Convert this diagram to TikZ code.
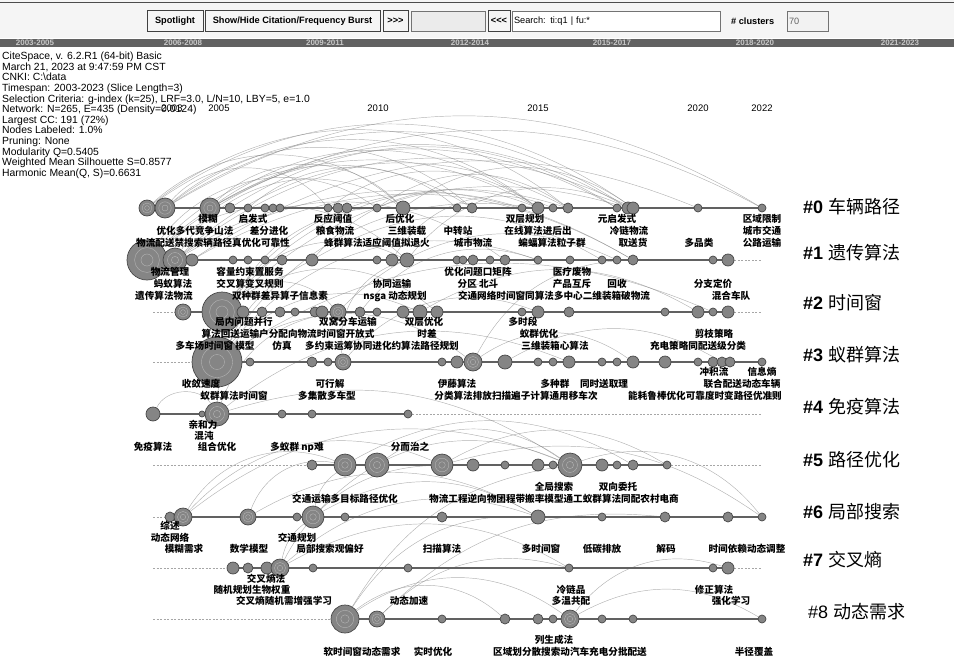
\documentclass[tikz,border=0pt]{standalone}
\usepackage{fontspec}
\setmainfont{Liberation Sans}
\newfontfamily\cjk{Noto Sans CJK SC}
\usetikzlibrary{backgrounds}

% one cluster row of keyword nodes: row, y, list of x/radius
\newcommand{\keyrow}[3]{%
  \foreach \x/\r [count=\i] in {#3} {%
    \node[kwnode, minimum size=2*\r pt] (a#1-\i) at (\x,#2) {};
    \ifnum\r>7 \draw[ringline] (a#1-\i.center) circle[radius=0.62*\r pt] circle[radius=0.3*\r pt];\fi
  }}
% one line of keyword labels: tag, y, list of x/text
\newcommand{\kwline}[3]{%
  \foreach \x/\t [count=\i] in {#3} \node[kwlabel] (l#1-\i) at (\x,#2) {\t};}

\begin{document}
\begin{tikzpicture}[x=1pt, y=-1pt]
    % Styles
    \tikzstyle{kwnode} = [circle, draw=black!72, fill=black!48, line width=0.7pt, inner sep=0pt]
    \tikzstyle{ringline} = [white!72!black, line width=0.35pt]
    \tikzstyle{rowline} = [black!62, line width=1.8pt]
    \tikzstyle{tailline} = [black!35, dash pattern=on 2pt off 1.5pt, line width=0.4pt]
    \tikzstyle{citelink} = [black!50, line width=0.45pt, opacity=0.6]
    \tikzstyle{kwlabel} = [inner sep=0pt, font=\cjk\bfseries\fontsize{9.6}{10}\selectfont]
    \tikzstyle{clusterlabel} = [anchor=west, inner sep=0pt, font=\fontsize{18}{20}\selectfont]
    \tikzstyle{yearlabel} = [inner sep=0pt, font=\fontsize{9.5}{10}\selectfont]
    \tikzstyle{rangelabel} = [inner sep=0pt, text=black!22, font=\bfseries\fontsize{8}{8}\selectfont]
    \tikzstyle{btn} = [draw=black!75, fill=black!4, minimum height=21pt, inner sep=2pt, font=\bfseries\fontsize{9.2}{10}\selectfont]
    \tikzstyle{field} = [draw=black!55, fill=white, minimum height=20pt, inner sep=2pt, align=left, font=\fontsize{9.2}{10}\selectfont]

    \useasboundingbox (0,0) rectangle (954,667);

    % Toolbar
    \fill[black!4] (0,0) rectangle (954,38);
    \draw[black!70, line width=1pt] (0,2) -- (954,2);
    \node[btn, minimum width=56pt] (spot) at (175,21) {Spotlight};
    \node[btn, minimum width=175pt] (burst) at (292.5,21) {Show/Hide Citation/Frequency Burst};
    \node[btn, minimum width=25pt] (fwd) at (395.5,21) {>\kern0pt>\kern0pt>};
    \node[field, minimum width=74pt, fill=black!8] (blank) at (448,21) {};
    \node[btn, minimum width=22pt] (back) at (499,21) {<\kern0pt<\kern0pt<};
    \node[field, text width=204pt] (search) at (616,21) {Search: ti:q1 | fu:*};
    \node[anchor=west, inner sep=0pt, font=\bfseries\fontsize{9.2}{10}\selectfont] (ncl) at (731,21) {\# clusters};
    \node[field, text width=37pt, fill=black!5, text=black!60] (nclv) at (807.5,21) {70};

    % Time slices
    \fill[black!62] (0,39) rectangle (954,47);
    \foreach \x/\t [count=\i] in {35/2003-2005, 183/2006-2008, 325/2009-2011, 470/2012-2014, 612/2015-2017, 755/2018-2020, 900/2021-2023}
        \node[rangelabel] (rg\i) at (\x,43) {\t};

    % Summary
    \node[anchor=north west, inner sep=0pt, align=left, font=\fontsize{10.4}{10.6}\selectfont] (info) at (2,52) {CiteSpace, v. 6.2.R1 (64-bit) Basic\\March 21, 2023 at 9:47:59 PM CST\\CNKI: C:\textbackslash data\\Timespan: 2003-2023 (Slice Length=3)\\Selection Criteria: g-index (k=25), LRF=3.0, L/N=10, LBY=5, e=1.0\\Network: N=265, E=435 (Density=0.0124)\\Largest CC: 191 (72\%)\\Nodes Labeled: 1.0\%\\Pruning: None\\Modularity Q=0.5405\\Weighted Mean Silhouette S=0.8577\\Harmonic Mean(Q, S)=0.6631};

    % Years
    \foreach \x/\t [count=\i] in {172/2003, 219/2005, 378/2010, 538/2015, 698/2020, 762/2022}
        \node[yearlabel] (yr\i) at (\x,108) {\t};

    % Keyword nodes
    \keyrow{0}{208}{147/8, 165/10, 210/10, 230/5, 248/4, 265/4, 273/4, 280/4, 328/4, 338/5, 347/5, 377/4, 403/7, 457/4, 472/5, 522/4, 538/6, 553/4, 568/5, 617/4, 628/6, 633/6, 698/4, 762/4}
    \keyrow{1}{260}{147/20, 175/12, 192/6, 233/4, 248/4, 265/4, 282/5, 312/6, 377/4, 392/6, 407/7, 457/4, 463/4, 473/5, 490/4, 505/5, 538/4, 570/4, 602/4, 617/4, 633/5, 713/4, 728/6}
    \keyrow{2}{312}{183/8, 222/20, 243/6, 262/5, 280/5, 295/4, 315/5, 322/6, 338/8, 360/5, 377/4, 403/6, 420/7, 437/6, 522/4, 538/6, 569/5, 665/4, 698/6, 713/4, 728/6}
    \keyrow{3}{362}{217/25, 250/4, 312/5, 328/4, 343/8, 442/4, 457/6, 473/9, 505/7, 538/4, 553/4, 569/6, 602/4, 617/4, 633/6, 665/6, 698/4, 713/5, 722/5, 730/5, 762/4}
    \keyrow{4}{414}{153/7, 202/3, 217/12, 282/4, 312/4, 408/4}
    \keyrow{5}{465}{312/5, 345/11, 377/12, 442/11, 473/6, 505/4, 538/6, 553/4, 570/12, 602/6, 617/4, 633/5, 667/4}
    \keyrow{6}{517}{170/5, 183/9, 248/8, 297/4, 313/11, 345/4, 442/5, 538/7, 602/4, 665/5, 728/5, 762/4}
    \keyrow{7}{568}{233/6, 248/5, 267/6, 280/9, 313/4, 408/4, 569/4, 713/4, 728/6}
    \keyrow{8}{619}{345/14, 377/8, 442/4, 505/5, 538/5, 553/4, 570/9, 602/4, 633/4, 762/4}

    % Keyword labels
    \kwline{0a}{219}{208/模糊, 253/启发式, 333/反应阈值, 400/后优化, 525/双层规划, 617/元启发式, 762/区域限制}
    \kwline{0b}{231}{195/优化多代竞争山法, 269/差分进化, 335/粮食物流, 407/三维装载, 458/中转站, 538/在线算法进后出, 629/冷链物流, 762/城市交通}
    \kwline{0c}{243}{213/物流配送禁搜索辆路径真优化可靠性, 377/蜂群算法适应阈值拟退火, 473/城市物流, 552/蝙蝠算法粒子群, 633/取送货, 699/多品类, 762/公路运输}
    \kwline{1a}{272}{170/物流管理, 250/容量约束置服务, 478/优化问题口矩阵, 572/医疗废物}
    \kwline{1b}{284}{173/蚂蚁算法, 250/交叉算变叉规则, 392/协同运输, 478/分区 北斗, 572/产品互斥, 617/回收, 713/分支定价}
    \kwline{1c}{296}{164/遗传算法物流, 280/双种群差异算子信息素, 395/nsga 动态规划, 554/交通网络时间窗同算法多中心二维装箱破物流, 731/混合车队}
    \kwline{2a}{322}{244/局内问题并行, 348/双窝分车运输, 424/双层优化, 523/多时段}
    \kwline{2b}{334}{288/算法回送运输户分配向物流时间窗开放式, 427/时差, 539/蚁群优化, 714/剪枝策略}
    \kwline{2c}{346}{215/多车场时间窗 模型, 282/仿真, 382/多约束运筹协同进化约算法路径规划, 555/三维装箱心算法, 698/充电策略同配送级分类}
    \kwline{3a}{372}{714/冲积流, 762/信息熵}
    \kwline{3b}{384}{201/收敛速度, 330/可行解, 457/伊藤算法, 555/多种群, 604/同时送取理, 742/联合配送动态车辆}
    \kwline{3c}{396}{234/蚁群算法时间窗, 327/多集散多车型, 516/分类算法排放扫描遍子计算通用移车次, 705/能耗鲁棒优化可靠度时变路径优准则}
    \kwline{4a}{425}{203/亲和力}
    \kwline{4b}{436}{204/混沌}
    \kwline{4c}{447}{153/免疫算法, 217/组合优化, 297/多蚁群 np难, 410/分而治之}
    \kwline{5a}{487}{554/全局搜索, 618/双向委托}
    \kwline{5b}{499}{345/交通运输多目标路径优化, 554/物流工程逆向物团程带搬率模型通工蚁群算法同配农村电商}
    \kwline{6a}{526}{170/综述}
    \kwline{6b}{538}{170/动态网络, 297/交通规划}
    \kwline{6c}{549}{184/模糊需求, 249/数学模型, 330/局部搜索观偏好, 442/扫描算法, 541/多时间窗, 602/低碳排放, 666/解码, 747/时间依赖动态调整}
    \kwline{7a}{579}{266/交叉熵法}
    \kwline{7b}{590}{252/随机规划生物权重, 571/冷链品, 714/修正算法}
    \kwline{7c}{601}{284/交叉熵随机需增强学习, 409/动态加速, 571/多温共配, 731/强化学习}
    \kwline{8a}{640}{554/列生成法}
    \kwline{8b}{652}{362/软时间窗动态需求, 433/实时优化, 570/区域划分散搜索动汽车充电分批配送, 754/半径覆盖}

    % Cluster labels
    \foreach \y/\k/\t in {207/0/车辆路径, 253/1/遗传算法, 303/2/时间窗, 355/3/蚁群算法, 407/4/免疫算法, 460/5/路径优化, 512/6/局部搜索, 560/7/交叉熵}
        \node[clusterlabel] (k\k) at (803,\y) {{\bfseries\#\k} {\cjk\t}};
    \node[clusterlabel] (k8) at (808,612) {\#8\hspace{5pt}{\cjk 动态需求}};

    % Row ends
    \foreach \k/\y in {2/312, 3/362, 5/465, 6/517, 7/568, 8/619} \coordinate (s\k) at (153,\y);
    \foreach \k/\y in {1/260, 2/312, 4/414, 5/465, 7/568} \coordinate (e\k) at (762,\y);

    \begin{pgfonlayer}{background}
        % Co-occurrence links
        \foreach \a/\b/\ang in {a0-2/a0-24/31, a0-1/a0-22/35, a0-3/a0-21/30, a0-2/a0-17/37, a0-3/a0-13/45,
            a1-1/a0-15/40, a1-2/a0-19/35, a0-4/a0-20/32, a1-1/a0-12/45, a2-2/a0-16/35, a1-2/a1-21/30,
            a0-2/a0-9/50, a1-3/a0-23/28, a0-5/a0-14/40, a2-2/a1-11/40, a3-1/a1-17/35, a3-1/a2-13/35,
            a1-10/a0-18/40, a0-13/a0-22/35, a1-11/a0-21/38, a2-9/a1-20/35, a2-13/a2-19/30, a3-8/a3-15/35,
            a3-9/a3-19/30, a3-1/a3-8/35, a4-3/a2-9/30, a4-1/a4-3/60, a4-3/a3-12/30, a6-2/a5-9/30,
            a6-2/a5-4/35, a5-2/a5-12/30, a5-3/a5-9/35, a5-4/a6-12/25, a6-5/a5-3/40, a6-3/a5-2/40,
            a5-9/a6-12/35, a4-3/a5-9/25, a7-4/a6-5/20, a7-4/a6-8/30, a8-1/a8-7/35, a8-1/a8-4/40,
            a8-2/a7-7/30, a8-7/a7-9/35, a8-7/a8-10/30, a7-4/a7-7/30, a6-5/a6-8/30, a8-1/a6-8/30,
            a0-1/a0-19/38, a0-2/a0-21/33, a0-3/a0-17/35, a0-3/a0-24/28, a1-1/a0-20/35, a1-2/a0-13/45,
            a1-2/a0-22/32, a2-2/a0-19/33, a2-2/a0-21/30, a3-1/a0-17/32, a3-1/a0-13/40, a1-1/a1-11/40,
            a1-2/a1-16/35, a1-3/a1-21/30, a2-2/a2-9/45, a2-2/a2-14/38, a3-1/a2-20/28, a0-12/a0-19/35,
            a0-9/a0-17/35, a1-8/a0-17/35, a1-8/a1-19/30, a2-10/a1-17/35, a3-5/a2-16/35, a3-5/a1-11/40,
            a4-3/a1-8/30, a3-8/a1-21/30, a6-5/a5-9/35, a6-2/a5-2/40, a7-4/a5-4/30, a8-1/a5-9/25,
            a8-2/a6-10/25, a6-3/a6-8/30, a5-4/a5-13/30, a0-1/a0-13/42, a0-2/a0-15/40, a1-1/a0-17/36}
            \draw[citelink] (\a) to[bend left=\ang] (\b);
        % Timelines
        \foreach \a/\b in {s2/a2-1, s3/a3-1, s5/a5-1, s6/a6-1, s7/a7-1, s8/a8-1, a1-23/e1, a2-21/e2, a4-6/e4, a5-13/e5, a7-9/e7}
            \draw[tailline] (\a) -- (\b);
        \foreach \a/\b in {a0-1/a0-24, a1-1/a1-23, a2-1/a2-21, a3-1/a3-21, a4-1/a4-6, a5-1/a5-13, a6-1/a6-12, a7-1/a7-9, a8-1/a8-10}
            \draw[rowline] (\a.center) -- (\b.center);
    \end{pgfonlayer}
\end{tikzpicture}
\end{document}
